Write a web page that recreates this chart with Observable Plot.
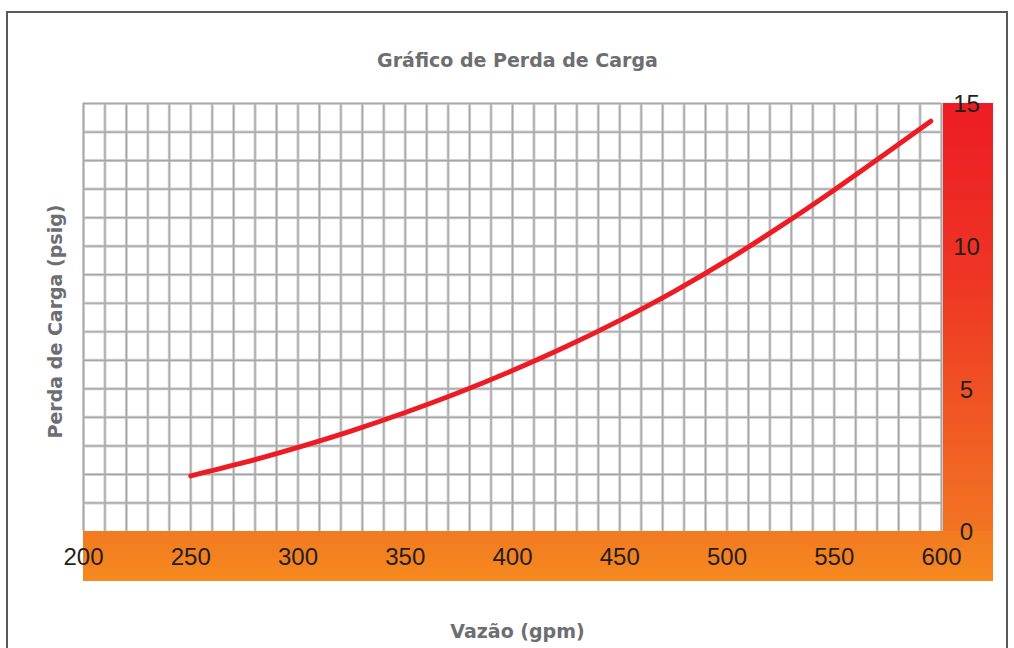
<!DOCTYPE html>
<html>
<head>
<meta charset="utf-8">
<script src="https://cdn.jsdelivr.net/npm/d3@7"></script>
<script src="https://cdn.jsdelivr.net/npm/@observablehq/plot@0.6"></script>
<style>
  html, body { margin: 0; padding: 0; background: #fff; overflow: hidden; }
  #wrap { position: relative; width: 1014px; height: 648px; }
  #chart { position: absolute; left: 0; top: 0; }
  #frame { position: absolute; left: 6px; top: 11px; width: 1002px; height: 700px;
           border: 2px solid #5a5a5a; border-bottom: none; box-sizing: border-box; pointer-events: none; }
</style>
</head>
<body>
<div id="wrap"><div id="chart"></div><div id="frame"></div></div>
<script>
// ---- data ----
const titleText = "Gráfico de Perda de Carga";
const xLabel = "Vazão (gpm)";
const yLabel = "Perda de Carga (psig)";
const flowGpm = [250, 275, 300, 325, 350, 375, 400, 425, 450, 475, 500, 525, 550, 575, 595];
const lossPsig = [1.95, 2.42, 2.95, 3.53, 4.17, 4.87, 5.64, 6.48, 7.40, 8.40, 9.50, 10.70, 11.97, 13.30, 14.38];
const xTicks = [200, 250, 300, 350, 400, 450, 500, 550, 600];
const yTicks = [0, 5, 10, 15];
const xGrid = d3.range(200, 601, 10);
const yGrid = d3.range(1, 16, 1);

const curve = flowGpm.map((q, i) => ({q, p: lossPsig[i]}));

const BAR = 52;   // width of the coloured bar on the right
const BAND = 50;  // height of the orange band below

function backdrop(index, scales, values, dimensions) {
  const {width, height, marginLeft, marginRight, marginTop, marginBottom} = dimensions;
  const x0 = marginLeft, x1 = width - marginRight, yTop = marginTop, yBot = height - marginBottom;
  const g = d3.create("svg:g");
  const defs = g.append("defs");
  const gr = defs.append("linearGradient").attr("id", "redOrange")
    .attr("x1", 0).attr("y1", 0).attr("x2", 0).attr("y2", 1);
  gr.append("stop").attr("offset", "0%").attr("stop-color", "#ed1c24");
  gr.append("stop").attr("offset", "40%").attr("stop-color", "#ee3424");
  gr.append("stop").attr("offset", "100%").attr("stop-color", "#f27422");
  const gb = defs.append("linearGradient").attr("id", "bandOrange")
    .attr("x1", 0).attr("y1", 0).attr("x2", 0).attr("y2", 1);
  gb.append("stop").attr("offset", "0%").attr("stop-color", "#f27a21");
  gb.append("stop").attr("offset", "100%").attr("stop-color", "#f6891f");
  g.append("rect").attr("x", x0).attr("y", yBot).attr("width", x1 - x0 + BAR)
    .attr("height", BAND).attr("fill", "url(#bandOrange)");
  g.append("rect").attr("x", x1 + 1).attr("y", yTop).attr("width", BAR - 1)
    .attr("height", yBot - yTop).attr("fill", "url(#redOrange)");
  return g.node();
}

const labelFont = {fontFamily: "DejaVu Sans", fontWeight: "bold", fontSize: 19, fill: "#6d6e71"};
const tickFont = {fontFamily: "Liberation Sans", fontSize: 24, fill: "#231f20"};

const chart = Plot.plot({
  width: 1014,
  height: 648,
  marginLeft: 83,
  marginRight: 73,
  marginTop: 103,
  marginBottom: 117,
  style: {background: "transparent", overflow: "visible"},
  x: {domain: [200, 600], axis: null},
  y: {domain: [0, 15], axis: null},
  marks: [
    backdrop,
    Plot.ruleX(xGrid, {stroke: "#cfcfd1", strokeWidth: 3}),
    Plot.ruleY(yGrid, {stroke: "#cfcfd1", strokeWidth: 3}),
    Plot.ruleX(xGrid, {stroke: "#a6a6a9", strokeWidth: 1.2}),
    Plot.ruleY(yGrid, {stroke: "#a6a6a9", strokeWidth: 1.2}),
    Plot.line(curve, {x: "q", y: "p", stroke: "#ed1c24", strokeWidth: 5,
      curve: "monotone-x", strokeLinecap: "round", strokeLinejoin: "round"}),
    Plot.text(xTicks, {x: d => d, text: d => String(d), frameAnchor: "bottom", dy: 26,
      textAnchor: "middle", lineAnchor: "middle", ...tickFont}),
    Plot.text(yTicks, {y: d => d, text: d => String(d), frameAnchor: "right", dx: 25, dy: 1,
      textAnchor: "middle", lineAnchor: "middle", ...tickFont}),
    Plot.text([titleText], {frameAnchor: "top", dy: -43, dx: 5, textAnchor: "middle", lineAnchor: "middle", ...labelFont}),
    Plot.text([xLabel], {frameAnchor: "bottom", dy: 100, dx: 5, textAnchor: "middle", lineAnchor: "middle", ...labelFont}),
    Plot.text([yLabel], {frameAnchor: "left", dx: -28, dy: 4, rotate: -90, textAnchor: "middle", lineAnchor: "middle", ...labelFont})
  ]
});
document.getElementById("chart").appendChild(chart);
</script>
</body>
</html>
